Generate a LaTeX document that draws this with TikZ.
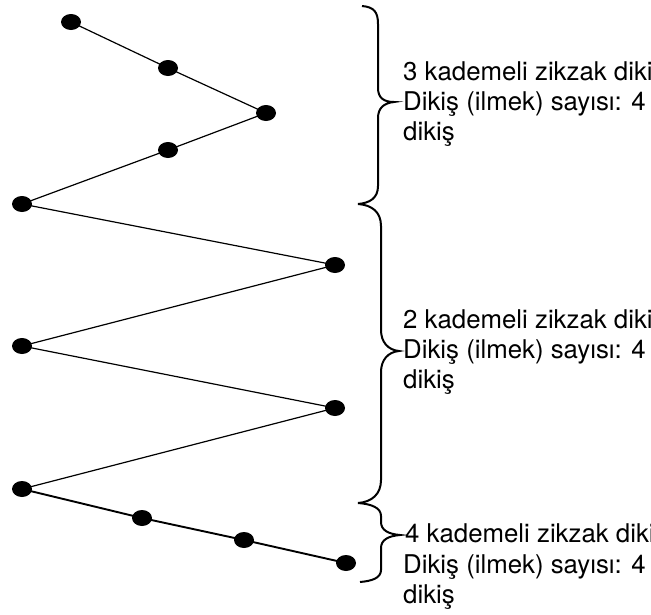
\documentclass[tikz,border=0pt]{standalone}
\usepackage{fontspec}
\setmainfont{TeX Gyre Heros}
\usetikzlibrary{shapes.geometric}
\begin{document}
\begin{tikzpicture}[x=1pt,y=-1pt,
  dot/.style={ellipse,fill=black,minimum width=20pt,minimum height=16pt,inner sep=0pt},
  zig/.style={line width=1.2pt},
  zigb/.style={line width=1.9pt},
  brc/.style={line width=2pt},
  lbl/.style={anchor=base west,inner sep=0pt,font=\fontsize{25.8}{30}\selectfont}]
\clip (0,0) rectangle (651,614);
\fill[white] (0,0) rectangle (651,614);
% dots
\node[dot] (d1) at (71,22) {};
\node[dot] (d2) at (168,68) {};
\node[dot] (d3) at (266,113) {};
\node[dot] (d4) at (168,150) {};
\node[dot] (d5) at (22,204) {};
\node[dot] (d6) at (335,265) {};
\node[dot] (d7) at (22,346) {};
\node[dot] (d8) at (335,408) {};
\node[dot] (d9) at (22,489) {};
\node[dot] (d10) at (142,518) {};
\node[dot] (d11) at (244,540) {};
\node[dot] (d12) at (346,563) {};
% zigzag
\draw[zig] (d1.center) -- (d2.center) -- (d3.center) -- (d4.center) -- (d5.center) -- (d6.center) -- (d7.center) -- (d8.center) -- (d9.center);
\draw[zigb] (d9.center) -- (d10.center) -- (d11.center) -- (d12.center);
% braces
\draw[brc] (362,6) .. controls (374,7) and (378,12) .. (378,24) -- (378,88)
  .. controls (378,98) and (384,102) .. (394,102)
  .. controls (384,103) and (378,108) .. (378,118) -- (378,186)
  .. controls (378,198) and (370,203) .. (358,204);
\draw[brc] (358,204) .. controls (372,205) and (381,212) .. (381,226) -- (381,330)
  .. controls (381,342) and (388,350) .. (399,351)
  .. controls (388,352) and (381,360) .. (381,372) -- (381,480)
  .. controls (381,494) and (372,502) .. (358,503);
\draw[brc] (358,503) .. controls (372,504) and (381,508) .. (381,516) -- (381,522)
  .. controls (381,530) and (388,534) .. (400,535)
  .. controls (388,536) and (381,540) .. (381,548) -- (381,570)
  .. controls (381,578) and (372,581) .. (360,582);
% labels
\node[lbl] (a1) at (403,80) {3 kademeli zikzak dikiş};
\node[lbl] (a2) at (403,110) {Dikiş (ilmek) sayısı: 4};
\node[lbl] (a3) at (403,140) {dikiş};
\node[lbl] (b1) at (403,328) {2 kademeli zikzak dikiş};
\node[lbl] (b2) at (403,358) {Dikiş (ilmek) sayısı: 4};
\node[lbl] (b3) at (403,388) {dikiş};
\node[lbl] (c1) at (405,542) {4 kademeli zikzak dikiş};
\node[lbl] (c2) at (403,573) {Dikiş (ilmek) sayısı: 4};
\node[lbl] (c3) at (403,603) {dikiş};
\end{tikzpicture}
\end{document}
